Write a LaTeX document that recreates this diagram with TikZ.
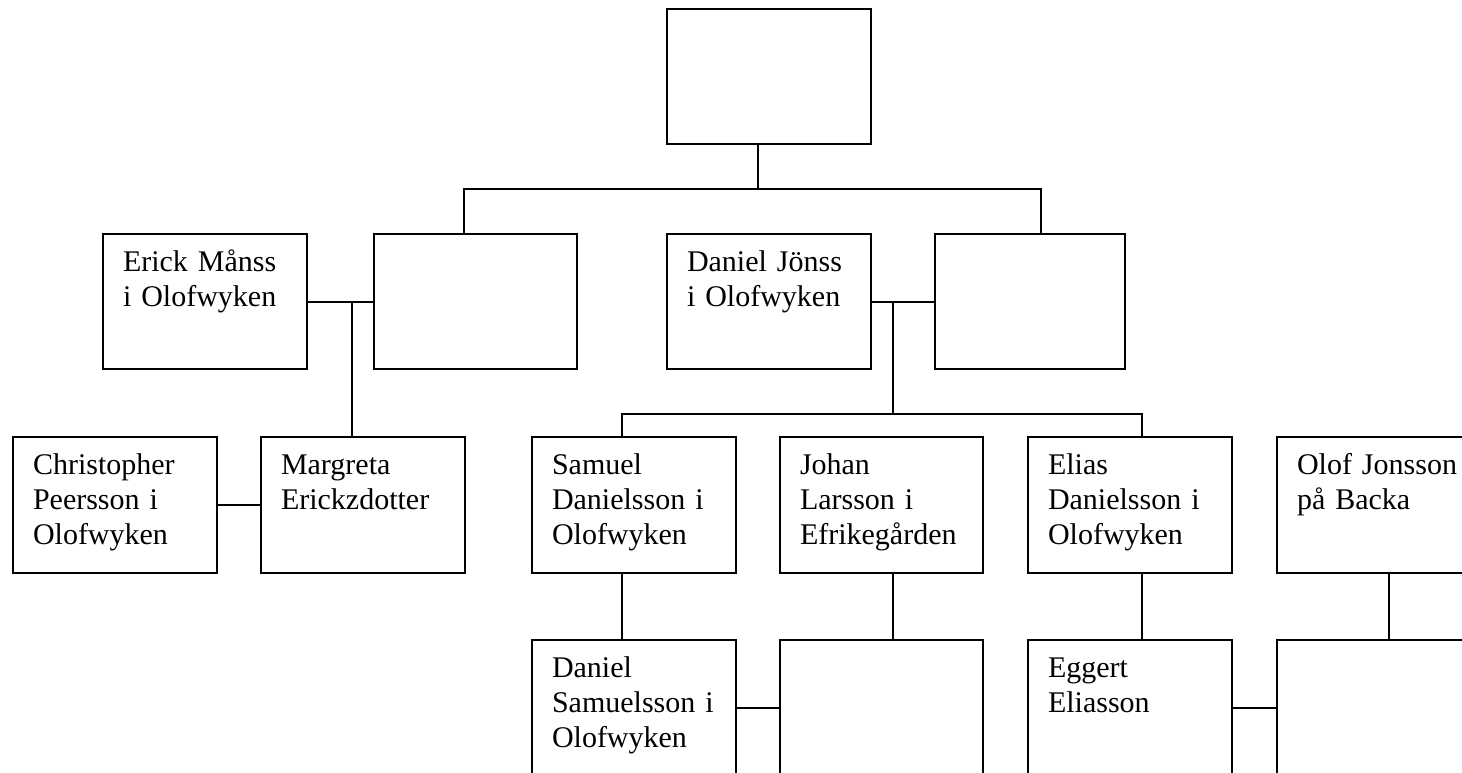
\documentclass[tikz,border=0pt]{standalone}
\usepackage{fontspec}
\setmainfont{Liberation Serif}
\begin{document}
\begin{tikzpicture}[x=1pt,y=-1pt,
  box/.style={draw, line width=2pt, anchor=north west, inner sep=0pt, outer sep=0pt, minimum width=204pt, minimum height=136pt},
  txt/.style={anchor=base west, inner sep=0pt, outer sep=0pt, text width=185pt, align=left, font=\fontsize{30}{35.2}\selectfont},
  con/.style={line width=2pt}]
\useasboundingbox (0,0) rectangle (1462,773);
\fill[white] (0,0) rectangle (1462,773);
\clip (0,0) rectangle (1462,773);

% row 1
\node[box, minimum height=135pt] (T) at (667,9) {};
% row 2
\node[box, minimum height=135pt] (E) at (103,234) {};
\node[box, minimum height=135pt, minimum width=203pt] (W1) at (374,234) {};
\node[box, minimum height=135pt] (D) at (667,234) {};
\node[box, minimum height=135pt, minimum width=190pt] (W2) at (935,234) {};
% row 3
\node[box] (C) at (13,437) {};
\node[box] (M) at (261,437) {};
\node[box] (S) at (532,437) {};
\node[box, minimum width=203pt] (J) at (780,437) {};
\node[box] (EL) at (1028,437) {};
\node[box] (O) at (1277,437) {};
% row 4
\node[box] (DS) at (532,640) {};
\node[box, minimum width=203pt] (X1) at (780,640) {};
\node[box] (EG) at (1028,640) {};
\node[box] (X2) at (1277,640) {};

% texts
\node[txt] (tE) at ([shift={(20pt,-37pt)}]E.north west) {Erick Månss\\i Olofwyken};
\node[txt] (tD) at ([shift={(20pt,-37pt)}]D.north west) {Daniel Jönss\\i Olofwyken};
\node[txt] (tC) at ([shift={(20pt,-37pt)}]C.north west) {Christopher\\Peersson i\\Olofwyken};
\node[txt] (tM) at ([shift={(20pt,-37pt)}]M.north west) {Margreta\\Erickzdotter};
\node[txt] (tS) at ([shift={(20pt,-37pt)}]S.north west) {Samuel\\Danielsson i\\Olofwyken};
\node[txt] (tJ) at ([shift={(20pt,-37pt)}]J.north west) {Johan\\Larsson i\\Efrikegården};
\node[txt] (tEL) at ([shift={(20pt,-37pt)}]EL.north west) {Elias\\Danielsson i\\Olofwyken};
\node[txt] (tO) at ([shift={(20pt,-37pt)}]O.north west) {Olof Jonsson\\på Backa};
\node[txt] (tDS) at ([shift={(20pt,-37pt)}]DS.north west) {Daniel\\Samuelsson i\\Olofwyken};
\node[txt] (tEG) at ([shift={(20pt,-37pt)}]EG.north west) {Eggert\\Eliasson};

% junction coordinates
\coordinate (j0) at (758,189);
\coordinate (jL) at (464,189);
\coordinate (jR) at (1041,189);
\coordinate (m1) at (352,301.5);
\coordinate (m2) at (893,301.5);
\coordinate (b2) at (893,414);
\coordinate (bL) at (622,414);
\coordinate (bR) at (1142,414);
\coordinate (oR) at (1389,600);

% connectors
\draw[con] (T.south -| j0) -- (j0);
\draw[con] (W1.north -| jL) -- (jL) -- (jR) -- (W2.north -| jR);
\draw[con] (E.east) -- (W1.west);
\draw[con] (m1) -- (m1 |- M.north);
\draw[con] (D.east) -- (W2.west);
\draw[con] (m2) -- (b2);
\draw[con] (S.north -| bL) -- (bL) -- (bR) -- (EL.north -| bR);
\draw[con] (C.east) -- (M.west);
\draw[con] (S.south -| bL) -- (DS.north -| bL);
\draw[con] (J.south -| b2) -- (X1.north -| b2);
\draw[con] (EL.south -| bR) -- (EG.north -| bR);
\draw[con] (O.south -| oR) -- (X2.north -| oR);
\draw[con] (DS.east) -- (X1.west);
\draw[con] (EG.east) -- (X2.west);
\end{tikzpicture}
\end{document}
